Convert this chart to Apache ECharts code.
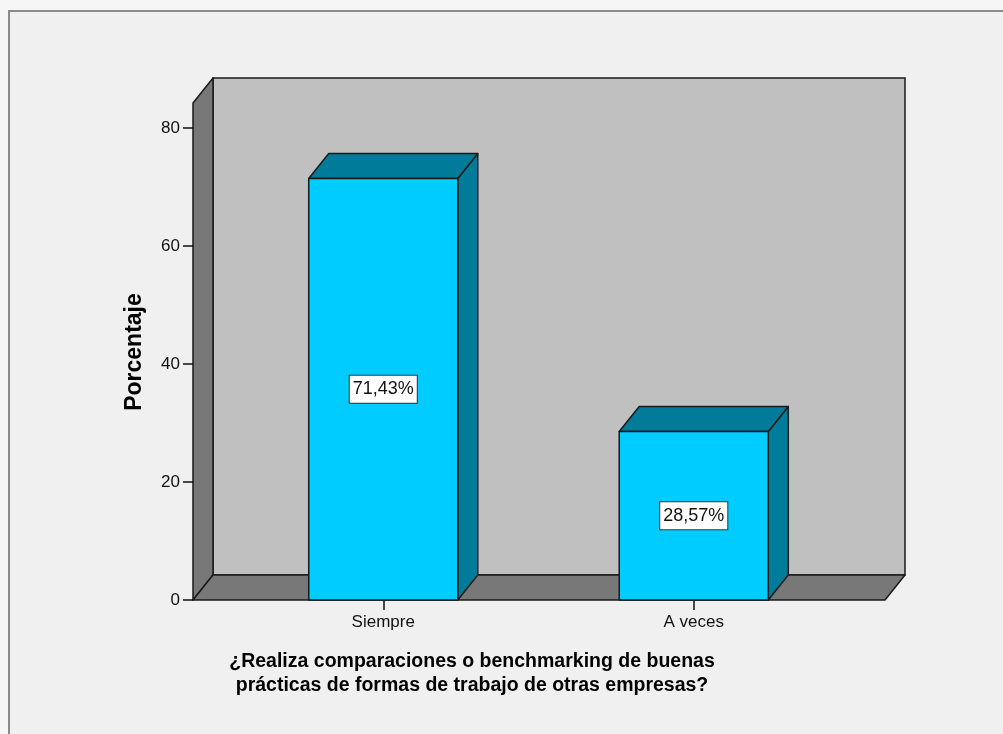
<!DOCTYPE html>
<html>
<head>
<meta charset="utf-8">
<script src="https://cdn.jsdelivr.net/npm/echarts@6/dist/echarts.min.js"></script>
<style>
html,body{margin:0;padding:0;background:#f6f6f6;}
#chart{width:1003px;height:734px;}
</style>
</head>
<body>
<div id="chart"></div>
<script>
// ---- data ----
const categories = ['Siempre', 'A veces'];
const percentages = [71.43, 28.57];
const yTicks = [0, 20, 40, 60, 80];
const yTitle = 'Porcentaje';
const xTitle = '¿Realiza comparaciones o benchmarking de buenas\nprácticas de formas de trabajo de otras empresas?';

// ---- layout / style ----
const DX = 20, DY = 25;          // 3D depth offset
const BAR_RATIO = 0.48;
const FONT = '"Liberation Sans", Arial, sans-serif';
const FRONT = '#00CCFF', SHADE = '#007B9A', EDGE = '#1a1a1a';
const WALL = '#C0C0C0', SIDE = '#787878';

// wall box geometry (pixels)
const BOX = {left: 193, right: 885, bottom: 600, top: 103};

const chart = echarts.init(document.getElementById('chart'), null, {renderer: 'canvas'});

function fmt(v) { return v.toFixed(2).replace('.', ',') + '%'; }

function renderBar(params, api) {
  const cat = api.value(0), val = api.value(1);
  const top = api.coord([cat, val]);
  const base = api.coord([cat, 0]);
  const bw = api.size([1, 0])[0] * BAR_RATIO;
  const x0 = top[0] - bw / 2, x1 = top[0] + bw / 2, y0 = top[1], y1 = base[1];
  const st = {stroke: EDGE, lineWidth: 1.5, lineJoin: 'round'};
  return {
    type: 'group',
    children: [
      {type: 'polygon', shape: {points: [[x1, y0], [x1 + DX, y0 - DY], [x1 + DX, y1 - DY], [x1, y1]]},
        style: Object.assign({fill: SHADE}, st)},
      {type: 'polygon', shape: {points: [[x0, y0], [x0 + DX, y0 - DY], [x1 + DX, y0 - DY], [x1, y0]]},
        style: Object.assign({fill: SHADE}, st)},
      {type: 'rect', shape: {x: x0, y: y0, width: bw, height: y1 - y0},
        style: Object.assign({fill: FRONT}, st)},
      {type: 'text', x: top[0], y: (y0 + y1) / 2, z2: 10,
        style: {text: fmt(val), align: 'center', verticalAlign: 'middle',
          font: '18px ' + FONT, fill: '#111',
          backgroundColor: '#fff', borderColor: '#333', borderWidth: 1,
          padding: [5, 3, 4, 3]}}
    ]
  };
}

const graphicEls = [
  // outer frame
  {type: 'rect', z: -10, shape: {x: 9, y: 11, width: 1010, height: 740},
    style: {fill: '#f0f0f0', stroke: '#8a8a8a', lineWidth: 2}},
  // back wall
  {type: 'rect', z: -5, shape: {x: BOX.left + DX, y: BOX.top - DY, width: BOX.right - BOX.left, height: BOX.bottom - BOX.top},
    style: {fill: WALL, stroke: EDGE, lineWidth: 1.5}},
  // left side wall
  {type: 'polygon', z: -4, shape: {points: [[BOX.left, BOX.bottom], [BOX.left, BOX.top], [BOX.left + DX, BOX.top - DY], [BOX.left + DX, BOX.bottom - DY]]},
    style: {fill: SIDE, stroke: EDGE, lineWidth: 1.5, lineJoin: 'round'}},
  // floor
  {type: 'polygon', z: -4, shape: {points: [[BOX.left, BOX.bottom], [BOX.left + DX, BOX.bottom - DY], [BOX.right + DX, BOX.bottom - DY], [BOX.right, BOX.bottom]]},
    style: {fill: SIDE, stroke: EDGE, lineWidth: 1.5, lineJoin: 'round'}},
  // y title
  {type: 'text', x: 135, y: 352, rotation: Math.PI / 2,
    style: {text: yTitle, align: 'center', verticalAlign: 'middle', font: 'bold 23px ' + FONT, fill: '#000'}},
  // x title
  {type: 'text', x: 472, y: 674,
    style: {text: xTitle, align: 'center', verticalAlign: 'middle', font: 'bold 19.5px ' + FONT, fill: '#000', lineHeight: 24}}
];

const option = {
  animation: false,
  backgroundColor: 'transparent',
  graphic: graphicEls,
  grid: {left: 228, right: 154, top: 128, bottom: 134, containLabel: false},
  xAxis: {
    type: 'category', data: categories,
    axisLine: {show: false},
    axisTick: {show: true, alignWithLabel: true, length: 10, lineStyle: {color: '#111', width: 1.5}},
    axisLabel: {fontSize: 17, fontFamily: FONT, color: '#111', margin: 14},
    splitLine: {show: false}
  },
  yAxis: {
    type: 'value', min: yTicks[0], max: yTicks[yTicks.length - 1], interval: 20,
    offset: 35,
    axisLine: {show: false},
    axisTick: {show: true, length: 10, lineStyle: {color: '#111', width: 1.5}},
    axisLabel: {fontSize: 17, fontFamily: FONT, color: '#111', margin: 13},
    splitLine: {show: false}
  },
  series: [{
    type: 'custom',
    renderItem: renderBar,
    data: categories.map((c, i) => [i, percentages[i]]),
    encode: {x: 0, y: 1},
    z: 5
  }]
};
chart.setOption(option);
</script>
</body>
</html>
